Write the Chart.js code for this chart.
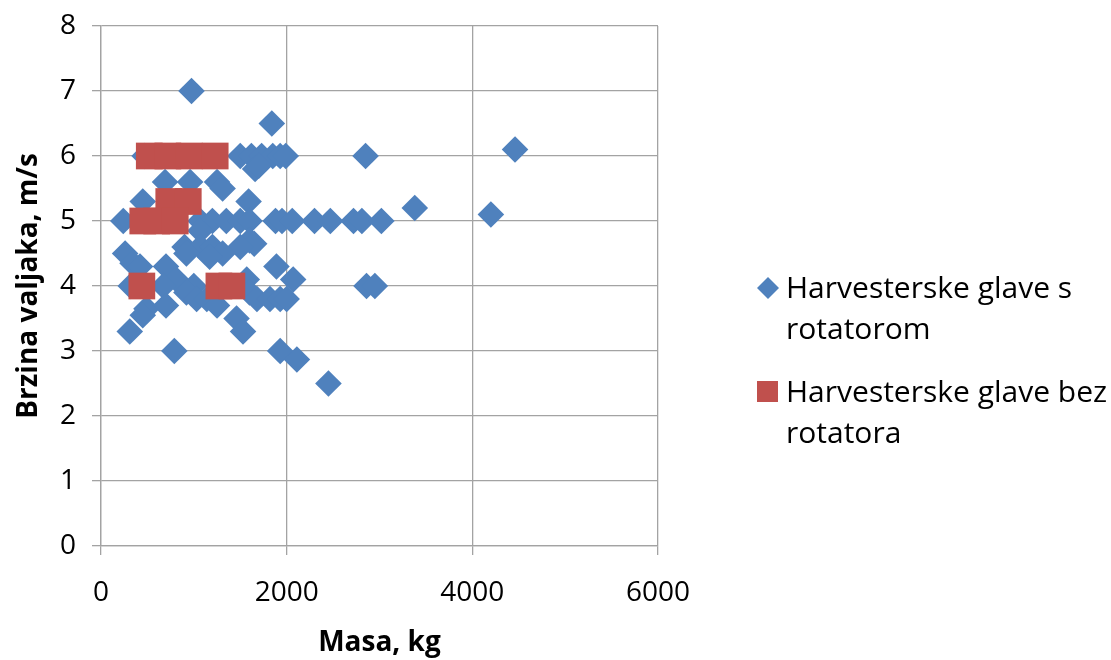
<!DOCTYPE html>
<html><head><meta charset="utf-8">
<script src="https://cdn.jsdelivr.net/npm/chart.js@4/dist/chart.umd.min.js"></script>
<style>html,body{margin:0;padding:0;background:#fff}#wrap{width:1111px;height:660px}</style>
</head><body><div id="wrap"><canvas id="c" width="1111" height="660"></canvas></div>
<script>
const seriesNames = ['Harvesterske glave s rotatorom', 'Harvesterske glave bez rotatora'];
const legendLines = [['Harvesterske glave s', 'rotatorom'], ['Harvesterske glave bez', 'rotatora']];
const xTickValues = [0, 2000, 4000, 6000];
const yTickValues = [0, 1, 2, 3, 4, 5, 6, 7, 8];
const xTitle = 'Masa, kg';
const yTitle = 'Brzina valjaka, m/s';

// Series 1: s rotatorom (mass kg, speed m/s)
const rotMasa = [975, 1840, 4460,
  470, 1500, 1620, 1730, 1850, 1930, 1990, 2850,
  1660, 1700,
  690, 960, 1250, 1310,
  450, 1590, 3380, 4200,
  240, 1070, 1200, 1350, 1500, 1600, 1880, 1950, 2060, 2300, 2470, 2720, 2810, 3020,
  1070, 1600, 1650,
  900, 1070, 1200, 1500,
  260, 920, 1310, 1170,
  340, 420, 700, 1890,
  2070, 810, 1570,
  320, 670, 2860, 2950, 1000,
  920, 1600,
  1030, 1140, 1680, 1820, 1930, 2000,
  490, 700, 1250,
  450, 1460,
  310, 1530,
  790, 1930, 2110, 2450];
const rotBrzina = [7.0, 6.5, 6.1,
  6.0, 6.0, 6.0, 6.0, 6.0, 6.0, 6.0, 6.0,
  5.8, 5.85,
  5.6, 5.6, 5.6, 5.5,
  5.3, 5.3, 5.2, 5.1,
  5.0, 5.0, 5.0, 5.0, 5.0, 5.0, 5.0, 5.0, 5.0, 5.0, 5.0, 5.0, 5.0, 5.0,
  4.85, 4.7, 4.65,
  4.6, 4.6, 4.6, 4.6,
  4.5, 4.5, 4.5, 4.45,
  4.35, 4.3, 4.3, 4.3,
  4.1, 4.1, 4.1,
  4.0, 4.0, 4.0, 4.0, 4.0,
  3.9, 3.9,
  3.8, 3.8, 3.8, 3.8, 3.8, 3.8,
  3.65, 3.7, 3.7,
  3.55, 3.5,
  3.3, 3.3,
  3.0, 3.0, 2.87, 2.5];

// Series 2: bez rotatora
const bezMasa = [520, 720, 950, 1230, 730, 940, 450, 600, 800, 440, 1270, 1410];
const bezBrzina = [6.0, 6.0, 6.0, 6.0, 5.3, 5.3, 5.0, 5.0, 5.0, 4.0, 4.0, 4.0];

const BLUE = '#4F81BD';
const RED = '#C0504D';
const GRID = '#a3a3a3';
const FONT = "'Open Sans', 'Liberation Sans', sans-serif";

const toPts = (xs, ys) => xs.map((x, i) => ({x: x, y: ys[i]}));

const legendPlugin = {
  id: 'customLegend',
  afterDraw(chart) {
    const ctx = chart.ctx;
    ctx.save();
    ctx.fillStyle = BLUE;
    ctx.beginPath();
    const cx = 768, cy = 288, r = 11;
    ctx.moveTo(cx, cy - r); ctx.lineTo(cx + r, cy); ctx.lineTo(cx, cy + r); ctx.lineTo(cx - r, cy); ctx.closePath();
    ctx.fill();
    ctx.fillStyle = RED;
    ctx.fillRect(757, 381, 21, 21);
    ctx.fillStyle = '#000';
    ctx.font = '30px ' + FONT;
    ctx.textBaseline = 'alphabetic';
    ctx.textAlign = 'left';
    ctx.fillText(legendLines[0][0], 786, 298);
    ctx.fillText(legendLines[0][1], 786, 339);
    ctx.fillText(legendLines[1][0], 786, 402);
    ctx.fillText(legendLines[1][1], 786, 443);
    ctx.restore();
  }
};

new Chart(document.getElementById('c'), {
  type: 'scatter',
  data: {
    datasets: [
      {label: seriesNames[0], data: toPts(rotMasa, rotBrzina), backgroundColor: BLUE, borderWidth: 0,
        pointStyle: 'rectRot', pointRadius: 13.3, order: 1},
      {label: seriesNames[1], data: toPts(bezMasa, bezBrzina), backgroundColor: RED, borderWidth: 0,
        pointStyle: 'rect', pointRadius: 18.9, order: 0}
    ]
  },
  options: {
    responsive: false,
    animation: false,
    events: [],
    layout: {padding: {left: 0, top: 26, right: 453, bottom: 0}},
    plugins: {legend: {display: false}, tooltip: {enabled: false}},
    scales: {
      x: {
        type: 'linear', min: 0, max: 6000,
        afterBuildTicks: s => { s.ticks = xTickValues.map(v => ({value: v})); },
        afterFit: s => { s.height = 114; s.paddingLeft = 0; s.paddingRight = 0; },
        grid: {color: GRID, lineWidth: 1.3, tickLength: 9, drawTicks: true},
        border: {display: true, color: GRID, width: 1.3},
        ticks: {font: {family: FONT, size: 28}, color: '#000', padding: 21, maxRotation: 0,
          callback: v => String(v)},
        title: {display: true, text: xTitle, font: {family: FONT, size: 28, weight: 'bold'}, color: '#000', padding: {top: 3, bottom: 0}}
      },
      y: {
        type: 'linear', min: 0, max: 8,
        afterBuildTicks: s => { s.ticks = yTickValues.map(v => ({value: v})); },
        afterFit: s => { s.width = 101; s.paddingTop = 0; s.paddingBottom = 0; },
        grid: {color: GRID, lineWidth: 1.3, tickLength: 9, drawTicks: true},
        border: {display: true, color: GRID, width: 1.3},
        ticks: {font: {family: FONT, size: 28}, color: '#000', padding: 16, callback: v => String(v)},
        title: {display: true, text: yTitle, font: {family: FONT, size: 28, weight: 'bold'}, color: '#000', padding: {top: 12, bottom: 0}}
      }
    }
  },
  plugins: [legendPlugin]
});
</script>
</body></html>
